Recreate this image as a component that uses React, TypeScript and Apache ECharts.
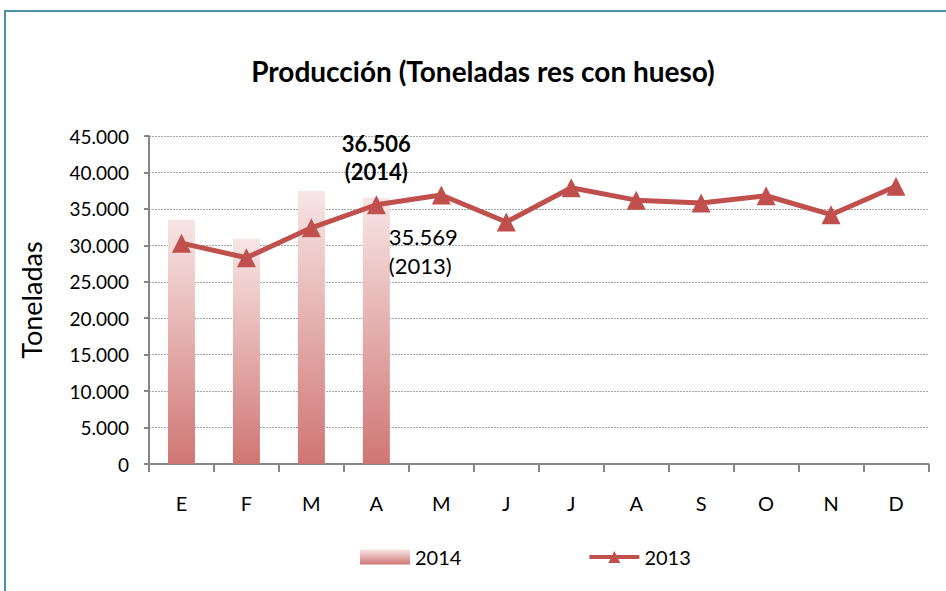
import React, { useEffect, useRef } from "react";
import * as echarts from "echarts";

const months = ["E", "F", "M", "A", "M", "J", "J", "A", "S", "O", "N", "D"];
const values2014 = [33500, 30900, 37450, 36506];
const values2013 = [30300, 28300, 32400, 35569, 36900, 33200, 37900, 36200, 35800, 36800, 34200, 38100];
const yTicks = { min: 0, max: 45000, interval: 5000 };
const titleText = "Producción (Toneladas res con hueso)";
const yAxisName = "Toneladas";

const FONT = "Lato, 'Open Sans', sans-serif";

function fmt(v: number): string {
  return String(Math.round(v)).replace(/\B(?=(\d{3})+(?!\d))/g, ".");
}

export default function App() {
  const ref = useRef<HTMLDivElement>(null);
  useEffect(() => {
    const chart = echarts.init(ref.current!, null, { renderer: "svg" });
    const barGrad = new echarts.graphic.LinearGradient(0, 0, 0, 1, [
      { offset: 0, color: "#f7e6e5" },
      { offset: 1, color: "#cf7674" },
    ]);
    const barData = values2014.map((v, i) =>
      i === values2014.length - 1
        ? {
            value: v,
            label: {
              show: true,
              position: "top",
              distance: 12,
              formatter: () => fmt(v) + "\n(2014)",
              fontFamily: FONT,
              fontWeight: "bold",
              fontSize: 22,
              lineHeight: 28,
              color: "#000",
            },
          }
        : v
    );
    const lineData = values2013.map((v, i) =>
      i === 3
        ? {
            value: v,
            label: {
              show: true,
              position: "right",
              offset: [-2, 46],
              formatter: () => fmt(v) + "\n(2013)",
              fontFamily: FONT,
              fontSize: 22,
              lineHeight: 29,
              color: "#000",
              align: "left",
            },
          }
        : v
    );
    chart.setOption({
      animation: false,
      backgroundColor: "#fff",
      title: {
        text: titleText,
        left: 478,
        textAlign: "center",
        top: 52,
        textStyle: { fontFamily: FONT, fontWeight: "bold", fontSize: 28, color: "#000" },
      },
      graphic: [
        {
          type: "rect",
          shape: { x: 5, y: 11, width: 960, height: 600 },
          style: { fill: "none", stroke: "#4a8fa3", lineWidth: 2 },
          silent: true,
        },
      ],
      grid: { left: 149, right: 17.5, top: 136, bottom: 127, containLabel: false },
      legend: {
        left: 355,
        top: 542,
        itemGap: 126,
        itemWidth: 50,
        itemHeight: 15,
        textStyle: { fontFamily: FONT, fontSize: 20, color: "#000" },
        lineStyle: { width: 4 },
        data: [
          { name: "2014", icon: "rect" },
          { name: "2013" },
        ],
      },
      xAxis: {
        type: "category",
        data: months,
        axisLine: { lineStyle: { color: "#868686", width: 2 } },
        axisTick: { show: true, length: 8, lineStyle: { color: "#868686", width: 2 } },
        axisLabel: { fontFamily: FONT, fontSize: 20, color: "#000", margin: 29 },
      },
      yAxis: {
        type: "value",
        min: yTicks.min,
        max: yTicks.max,
        interval: yTicks.interval,
        name: yAxisName,
        nameLocation: "middle",
        nameGap: 104,
        nameTextStyle: { fontFamily: FONT, fontSize: 27, color: "#000" },
        axisLine: { show: true, lineStyle: { color: "#868686", width: 2 } },
        axisTick: { show: true, length: 5, lineStyle: { color: "#868686", width: 2 } },
        axisLabel: {
          fontFamily: FONT,
          fontSize: 19,
          color: "#000",
          margin: 20,
          formatter: (v: number) => fmt(v),
        },
        splitLine: { lineStyle: { color: "#a6a6a6", type: [2, 1], width: 1 } },
      },
      series: [
        {
          name: "2014",
          type: "bar",
          data: barData,
          barWidth: 27,
          itemStyle: { color: barGrad },
        },
        {
          name: "2013",
          type: "line",
          data: lineData,
          symbol: "triangle",
          symbolSize: 19,
          lineStyle: { color: "#c0504d", width: 5 },
          itemStyle: { color: "#c0504d" },
          z: 5,
        },
      ],
    });
    return () => chart.dispose();
  }, []);
  return (
    <div
      ref={ref}
      style={{ position: "fixed", left: 0, top: 0, width: 946, height: 591 }}
    />
  );
}
